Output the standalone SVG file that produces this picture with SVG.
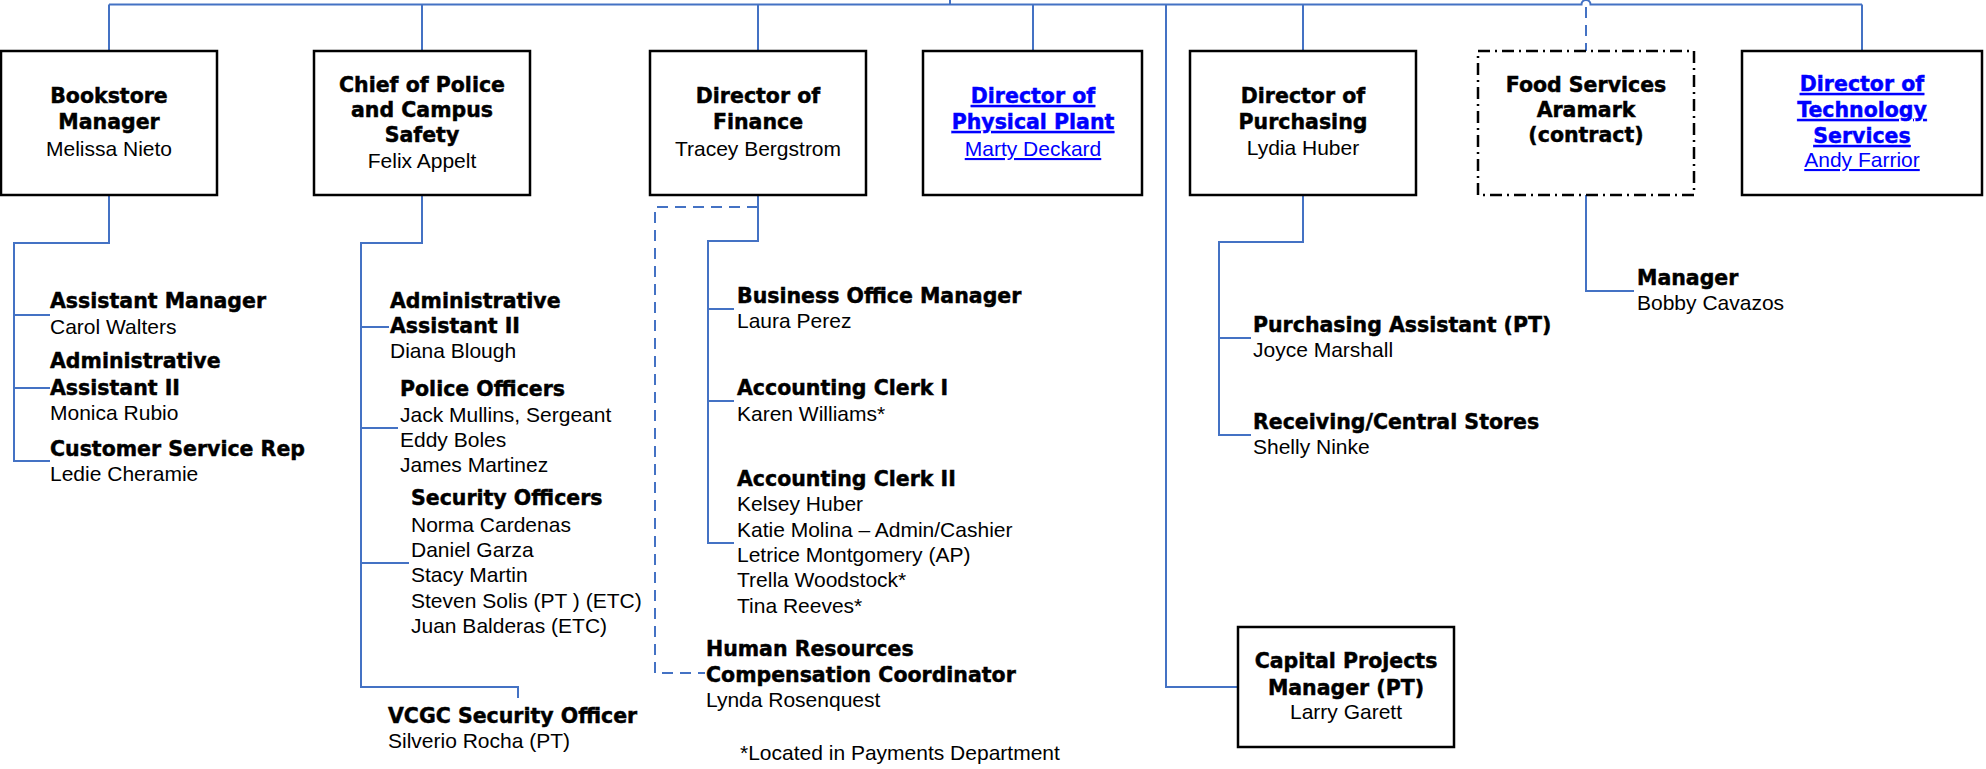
<svg xmlns="http://www.w3.org/2000/svg" width="1986" height="769" viewBox="0 0 1986 769">
<style>
.box{fill:#fff;stroke:#000;stroke-width:2.5}
.dd{fill:#fff;stroke:#000;stroke-width:2.5;stroke-dasharray:12 5 2 5}
.ln{fill:none;stroke:#4472C4;stroke-width:2}
.dl{fill:none;stroke:#4472C4;stroke-width:2;stroke-dasharray:11 7}
.b{font-family:"DejaVu Sans",sans-serif;font-weight:bold;font-size:20.5px;fill:#000;stroke:#000;stroke-width:0.45}
.r{font-family:"Liberation Sans",Arial,sans-serif;font-size:21px;fill:#000}
.c{text-anchor:middle}
.lk{fill:#0000FF;text-decoration:underline}
.b.lk{stroke:#0000FF}
</style>
<rect width="1986" height="769" fill="#fff"/>
<g id="connectors">
<path class="ln" d="M950,0 V4.5 M109,4.5 H1581.5 A4.5,4.5 0 0 1 1590.5,4.5 H1862"/>
<path class="ln" d="M109,4.5 V51 M422,4.5 V51 M758,4.5 V51 M1033,4.5 V51 M1303,4.5 V51 M1862,4.5 V51"/>
<path class="dl" d="M1586,7 V51"/>
<path class="ln" d="M1166,4.5 V687 H1238"/>
<path class="ln" d="M109,195 V243 H14 V461 H50 M14,315 H50 M14,388 H50"/>
<path class="ln" d="M422,195 V243 H361 V687 H518 V698 M361,327 H389 M361,428 H398 M361,563 H409"/>
<path class="ln" d="M758,195 V241 H708 V543 H734 M708,309 H734 M708,401 H734"/>
<path class="dl" d="M758,207 H655 V673 H705"/>
<path class="ln" d="M1303,195 V242 H1219 V435 H1251 M1219,338 H1251"/>
<path class="ln" d="M1586,195 V291 H1634"/>
</g>
<g id="bookstore">
<rect class="box" x="1" y="51" width="216" height="144"/>
<text class="b c" x="109" y="103">Bookstore</text>
<text class="b c" x="109" y="129">Manager</text>
<text class="r c" x="109" y="156">Melissa Nieto</text>
</g>
<g id="chief">
<rect class="box" x="314" y="51" width="216" height="144"/>
<text class="b c" x="422" y="92">Chief of Police</text>
<text class="b c" x="422" y="117">and Campus</text>
<text class="b c" x="422" y="142">Safety</text>
<text class="r c" x="422" y="168">Felix Appelt</text>
</g>
<g id="finance">
<rect class="box" x="650" y="51" width="216" height="144"/>
<text class="b c" x="758" y="103">Director of</text>
<text class="b c" x="758" y="129">Finance</text>
<text class="r c" x="758" y="156">Tracey Bergstrom</text>
</g>
<g id="physical-plant">
<rect class="box" x="923" y="51" width="219" height="144"/>
<text class="b c lk" x="1033" y="103">Director of</text>
<text class="b c lk" x="1033" y="129">Physical Plant</text>
<text class="r c lk" x="1033" y="156">Marty Deckard</text>
</g>
<g id="purchasing">
<rect class="box" x="1190" y="51" width="226" height="144"/>
<text class="b c" x="1303" y="103">Director of</text>
<text class="b c" x="1303" y="129">Purchasing</text>
<text class="r c" x="1303" y="155">Lydia Huber</text>
</g>
<g id="food-services">
<rect class="dd" x="1478" y="51" width="216" height="144"/>
<text class="b c" x="1586" y="92">Food Services</text>
<text class="b c" x="1586" y="117">Aramark</text>
<text class="b c" x="1586" y="142">(contract)</text>
</g>
<g id="technology">
<rect class="box" x="1742" y="51" width="240" height="144"/>
<text class="b c lk" x="1862" y="91">Director of</text>
<text class="b c lk" x="1862" y="117">Technology</text>
<text class="b c lk" x="1862" y="143">Services</text>
<text class="r c lk" x="1862" y="167">Andy Farrior</text>
</g>
<g id="capital-projects">
<rect class="box" x="1238" y="627" width="216" height="120"/>
<text class="b c" x="1346" y="668">Capital Projects</text>
<text class="b c" x="1346" y="695">Manager (PT)</text>
<text class="r c" x="1346" y="719">Larry Garett</text>
</g>
<g id="bookstore-staff">
<text class="b" x="50" y="308">Assistant Manager</text>
<text class="r" x="50" y="334">Carol Walters</text>
<text class="b" x="50" y="368">Administrative</text>
<text class="b" x="50" y="395">Assistant II</text>
<text class="r" x="50" y="420">Monica Rubio</text>
<text class="b" x="50" y="456">Customer Service Rep</text>
<text class="r" x="50" y="481">Ledie Cheramie</text>
</g>
<g id="police-staff">
<text class="b" x="390" y="308">Administrative</text>
<text class="b" x="390" y="333">Assistant II</text>
<text class="r" x="390" y="358">Diana Blough</text>
<text class="b" x="400" y="396">Police Officers</text>
<text class="r" x="400" y="422">Jack Mullins, Sergeant</text>
<text class="r" x="400" y="447">Eddy Boles</text>
<text class="r" x="400" y="472">James Martinez</text>
<text class="b" x="411" y="505">Security Officers</text>
<text class="r" x="411" y="532">Norma Cardenas</text>
<text class="r" x="411" y="557">Daniel Garza</text>
<text class="r" x="411" y="582">Stacy Martin</text>
<text class="r" x="411" y="608">Steven Solis (PT ) (ETC)</text>
<text class="r" x="411" y="633">Juan Balderas (ETC)</text>
</g>
<g id="vcgc">
<text class="b" x="388" y="723">VCGC Security Officer</text>
<text class="r" x="388" y="748">Silverio Rocha (PT)</text>
</g>
<g id="finance-staff">
<text class="b" x="737" y="303">Business Office Manager</text>
<text class="r" x="737" y="328">Laura Perez</text>
<text class="b" x="737" y="395">Accounting Clerk I</text>
<text class="r" x="737" y="421">Karen Williams*</text>
<text class="b" x="737" y="486">Accounting Clerk II</text>
<text class="r" x="737" y="511">Kelsey Huber</text>
<text class="r" x="737" y="537">Katie Molina – Admin/Cashier</text>
<text class="r" x="737" y="562">Letrice Montgomery (AP)</text>
<text class="r" x="737" y="587">Trella Woodstock*</text>
<text class="r" x="737" y="613">Tina Reeves*</text>
</g>
<g id="hr">
<text class="b" x="706" y="656">Human Resources</text>
<text class="b" x="706" y="682">Compensation Coordinator</text>
<text class="r" x="706" y="707">Lynda Rosenquest</text>
</g>
<g id="note">
<text class="r" x="740" y="760">*Located in Payments Department</text>
</g>
<g id="purchasing-staff">
<text class="b" x="1253" y="332">Purchasing Assistant (PT)</text>
<text class="r" x="1253" y="357">Joyce Marshall</text>
<text class="b" x="1253" y="429">Receiving/Central Stores</text>
<text class="r" x="1253" y="454">Shelly Ninke</text>
</g>
<g id="food-staff">
<text class="b" x="1637" y="285">Manager</text>
<text class="r" x="1637" y="310">Bobby Cavazos</text>
</g>
</svg>
